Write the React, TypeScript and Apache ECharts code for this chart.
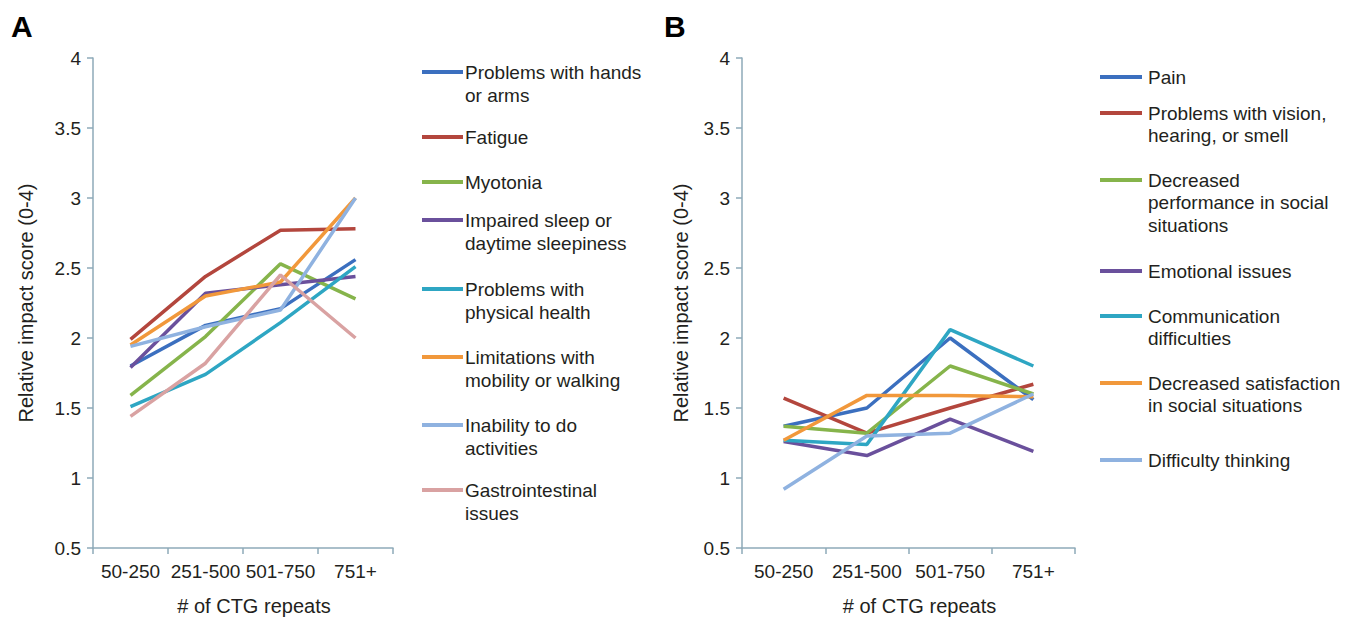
import React, { useEffect, useRef } from "react";
import * as echarts from "echarts";

const categories = ["50-250", "251-500", "501-750", "751+"];
const yTickMin = 0.5;
const yTickMax = 4;
const yTickStep = 0.5;

// Panel A
const namesA = [
  "Problems with hands or arms",
  "Fatigue",
  "Myotonia",
  "Impaired sleep or daytime sleepiness",
  "Problems with physical health",
  "Limitations with mobility or walking",
  "Inability to do activities",
  "Gastrointestinal issues",
];
const legendLinesA = [
  ["Problems with hands", "or arms"],
  ["Fatigue"],
  ["Myotonia"],
  ["Impaired sleep or", "daytime sleepiness"],
  ["Problems with", "physical health"],
  ["Limitations with", "mobility or walking"],
  ["Inability to do", "activities"],
  ["Gastrointestinal", "issues"],
];
const handsArms = [1.8, 2.09, 2.21, 2.56];
const fatigue = [1.99, 2.44, 2.77, 2.78];
const myotonia = [1.59, 2.01, 2.53, 2.28];
const impairedSleep = [1.79, 2.32, 2.38, 2.44];
const physicalHealth = [1.51, 1.74, 2.11, 2.51];
const mobility = [1.95, 2.3, 2.4, 3.0];
const inabilityActivities = [1.94, 2.08, 2.2, 3.0];
const gastrointestinal = [1.44, 1.82, 2.45, 2.0];
const valuesA = [handsArms, fatigue, myotonia, impairedSleep, physicalHealth, mobility, inabilityActivities, gastrointestinal];
const colorsA = ["#3b6fbf", "#b3463d", "#86b44b", "#6a509c", "#2ea6c3", "#f1983b", "#8fb2e0", "#d9a2a2"];

// Panel B
const namesB = [
  "Pain",
  "Problems with vision, hearing, or smell",
  "Decreased performance in social situations",
  "Emotional issues",
  "Communication difficulties",
  "Decreased satisfaction in social situations",
  "Difficulty thinking",
];
const legendLinesB = [
  ["Pain"],
  ["Problems with vision,", "hearing, or smell"],
  ["Decreased", "performance in social", "situations"],
  ["Emotional issues"],
  ["Communication", "difficulties"],
  ["Decreased satisfaction", "in social situations"],
  ["Difficulty thinking"],
];
const pain = [1.37, 1.5, 2.0, 1.56];
const vision = [1.57, 1.32, 1.5, 1.67];
const performance = [1.37, 1.32, 1.8, 1.6];
const emotional = [1.26, 1.16, 1.42, 1.19];
const communication = [1.27, 1.24, 2.06, 1.8];
const satisfaction = [1.27, 1.59, 1.59, 1.58];
const thinking = [0.92, 1.3, 1.32, 1.6];
const valuesB = [pain, vision, performance, emotional, communication, satisfaction, thinking];
const colorsB = ["#3b6fbf", "#b3463d", "#86b44b", "#6a509c", "#2ea6c3", "#f1983b", "#8fb2e0"];

const FONT = "Liberation Sans, Arial, Helvetica, sans-serif";
const TEXT = "#231f20";
const AXIS = "#8eaab9";
const TICK_FS = 19;
const NAME_FS = 20;
const LEGEND_FS = 19;

function legendGraphics(lines: string[][], colors: string[], ys: number[], x: number, lineLen: number, textX: number, lh: number) {
  const els: any[] = [];
  lines.forEach((ls, i) => {
    els.push({
      type: "line",
      shape: { x1: x, y1: ys[i], x2: x + lineLen, y2: ys[i] },
      style: { stroke: colors[i], lineWidth: 4 },
    });
    els.push({
      type: "text",
      x: textX,
      y: ys[i] - lh / 2,
      style: {
        text: ls.join("\n"),
        fill: TEXT,
        font: `${LEGEND_FS}px ${FONT}`,
        lineHeight: lh,
        verticalAlign: "top",
        textVerticalAlign: "top",
      },
    });
  });
  return els;
}

function yAxisCfg(gridIndex: number, nameGap: number) {
  return {
    type: "value",
    gridIndex,
    min: yTickMin,
    max: yTickMax,
    interval: yTickStep,
    name: "Relative impact score (0-4)",
    nameLocation: "middle",
    nameGap,
    nameTextStyle: { fontFamily: FONT, fontSize: NAME_FS, color: TEXT },
    axisLine: { show: true, lineStyle: { color: AXIS, width: 1.5 } },
    axisTick: { show: true, length: 6, lineStyle: { color: AXIS, width: 1.5 } },
    axisLabel: { fontFamily: FONT, fontSize: TICK_FS, color: TEXT, margin: 12 },
    splitLine: { show: false },
  };
}

function xAxisCfg(gridIndex: number) {
  return {
    type: "category",
    gridIndex,
    data: categories,
    boundaryGap: true,
    name: "# of CTG repeats",
    nameLocation: "middle",
    nameGap: 48,
    nameTextStyle: { fontFamily: FONT, fontSize: NAME_FS, color: TEXT, padding: [0, 0, 0, 22] },
    axisLine: { show: true, lineStyle: { color: AXIS, width: 1.5 } },
    axisTick: { show: true, length: 6, lineStyle: { color: AXIS, width: 1.5 } },
    axisLabel: { fontFamily: FONT, fontSize: TICK_FS, color: TEXT, margin: 14, interval: 0 },
    splitLine: { show: false },
  };
}

export default function App() {
  const ref = useRef<HTMLDivElement>(null);
  useEffect(() => {
    document.body.style.margin = "0";
    if (!ref.current) return;
    const chart = echarts.init(ref.current, null, { renderer: "svg" });
    const series: any[] = [];
    valuesA.forEach((v, i) =>
      series.push({
        name: namesA[i],
        type: "line",
        xAxisIndex: 0,
        yAxisIndex: 0,
        data: v,
        symbol: "none",
        lineStyle: { color: colorsA[i], width: 3.5 },
        itemStyle: { color: colorsA[i] },
      })
    );
    valuesB.forEach((v, i) =>
      series.push({
        name: namesB[i],
        type: "line",
        xAxisIndex: 1,
        yAxisIndex: 1,
        data: v,
        symbol: "none",
        lineStyle: { color: colorsB[i], width: 3.5 },
        itemStyle: { color: colorsB[i] },
      })
    );
    const legendYA = [72, 137, 182, 220, 289, 357, 425, 490];
    const legendYB = [77, 113, 180, 271, 316, 383, 460];
    chart.setOption({
      animation: false,
      backgroundColor: "#ffffff",
      grid: [
        { left: 93, top: 58, width: 300, height: 490, containLabel: false, outerBoundsMode: "none" },
        { left: 742, top: 58, width: 333, height: 490, containLabel: false, outerBoundsMode: "none" },
      ],
      xAxis: [xAxisCfg(0), xAxisCfg(1)],
      yAxis: [yAxisCfg(0, 57), yAxisCfg(1, 51)],
      series,
      graphic: [
        {
          type: "text",
          x: 11,
          y: 11,
          style: { text: "A", fill: "#000", font: `bold 30px ${FONT}` },
        },
        {
          type: "text",
          x: 664,
          y: 11,
          style: { text: "B", fill: "#000", font: `bold 30px ${FONT}` },
        },
        ...legendGraphics(legendLinesA, colorsA, legendYA, 422, 41, 465, 23.5),
        ...legendGraphics(legendLinesB, colorsB, legendYB, 1100, 42, 1148, 22.5),
      ],
    });
    return () => chart.dispose();
  }, []);
  return <div ref={ref} style={{ width: 1347, height: 619 }} />;
}
